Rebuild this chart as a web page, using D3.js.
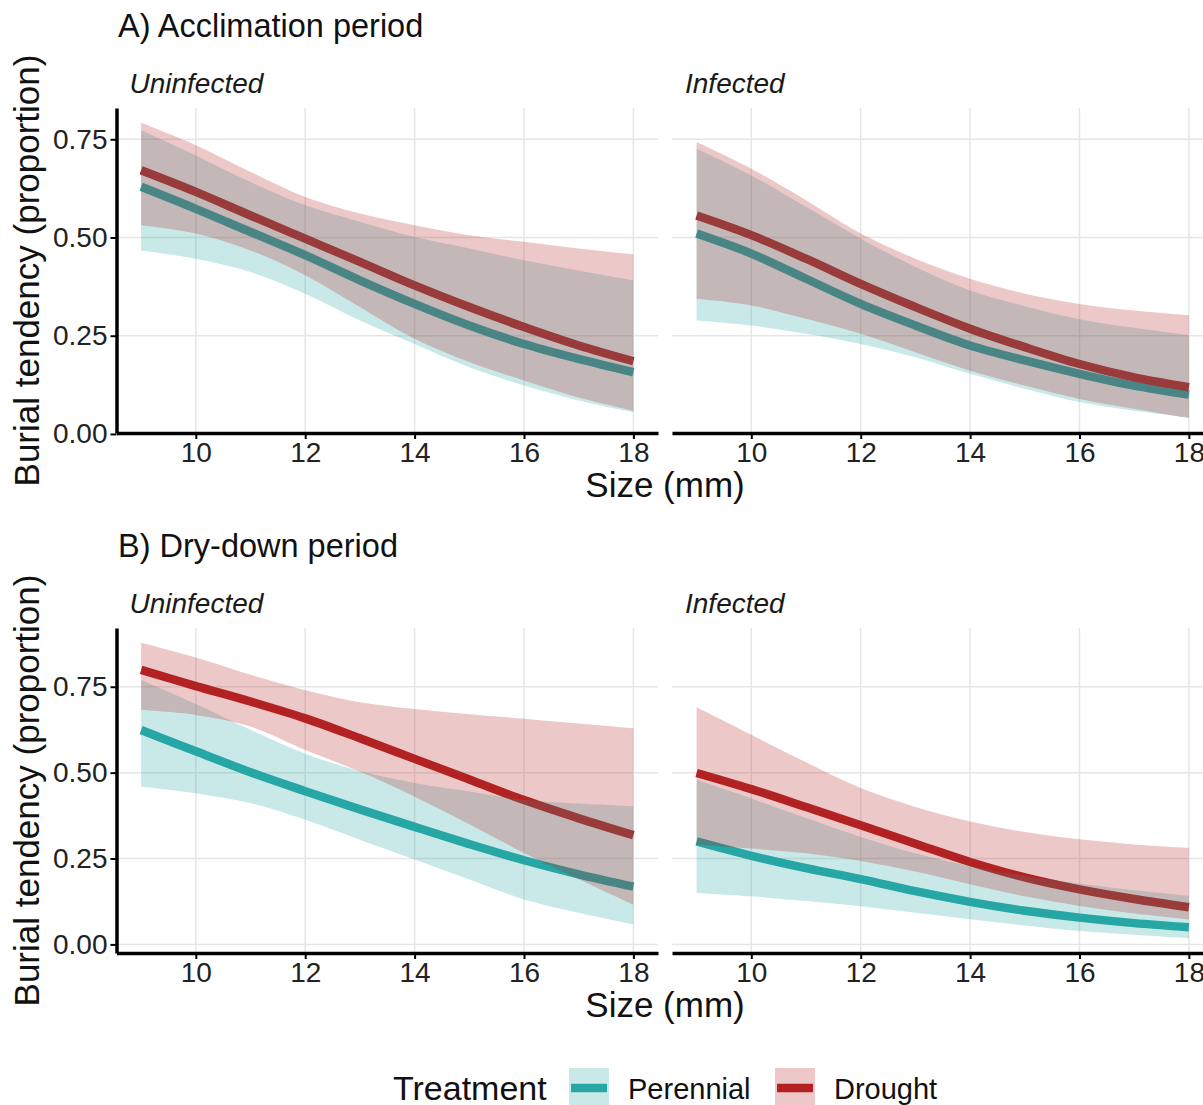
<!DOCTYPE html>
<html>
<head>
<meta charset="utf-8">
<script src="https://cdn.jsdelivr.net/npm/d3@7"></script>
<style>
  body { margin: 0; background: #fff; }
  svg { display: block; font-family: "Liberation Sans", Arial, sans-serif; }
</style>
</head>
<body>
<div id="chart"></div>
<script>
// Sizes (mm) where the fitted curves were read.
var sizes = [9, 10, 11, 12, 13, 14, 15, 16, 17, 18];
var xTicks = [10, 12, 14, 16, 18];
var yTicks = [0, 0.25, 0.5, 0.75];

var periods = ["A) Acclimation period", "B) Dry-down period"];
var infections = ["Uninfected", "Infected"];
var treatments = ["Perennial", "Drought"];

// A) Acclimation, uninfected.
var accUninfPerFit = [0.629, 0.573, 0.514, 0.455, 0.391, 0.331, 0.276, 0.229, 0.191, 0.157];
var accUninfPerLo  = [0.467, 0.446, 0.412, 0.357, 0.289, 0.229, 0.170, 0.123, 0.085, 0.055];
var accUninfPerHi  = [0.773, 0.709, 0.641, 0.582, 0.540, 0.501, 0.472, 0.442, 0.416, 0.391];
var accUninfDroFit = [0.671, 0.616, 0.556, 0.497, 0.438, 0.378, 0.323, 0.272, 0.225, 0.185];
var accUninfDroLo  = [0.531, 0.510, 0.467, 0.404, 0.323, 0.242, 0.183, 0.136, 0.093, 0.059];
var accUninfDroHi  = [0.792, 0.735, 0.667, 0.603, 0.561, 0.531, 0.506, 0.489, 0.472, 0.457];

// A) Acclimation, infected.
var accInfPerFit = [0.510, 0.459, 0.395, 0.331, 0.276, 0.225, 0.187, 0.153, 0.123, 0.100];
var accInfPerLo  = [0.289, 0.276, 0.255, 0.229, 0.195, 0.153, 0.115, 0.081, 0.059, 0.042];
var accInfPerHi  = [0.726, 0.658, 0.578, 0.497, 0.425, 0.365, 0.325, 0.292, 0.270, 0.251];
var accInfDroFit = [0.556, 0.506, 0.446, 0.382, 0.323, 0.268, 0.221, 0.178, 0.144, 0.119];
var accInfDroLo  = [0.344, 0.327, 0.293, 0.255, 0.208, 0.161, 0.123, 0.089, 0.064, 0.040];
var accInfDroHi  = [0.743, 0.675, 0.595, 0.510, 0.446, 0.395, 0.357, 0.331, 0.314, 0.302];

// B) Dry-down, uninfected.
var dryUninfPerFit = [0.624, 0.562, 0.501, 0.446, 0.393, 0.342, 0.292, 0.245, 0.204, 0.168];
var dryUninfPerLo  = [0.460, 0.440, 0.411, 0.363, 0.305, 0.247, 0.189, 0.131, 0.092, 0.058];
var dryUninfPerHi  = [0.770, 0.700, 0.625, 0.555, 0.505, 0.470, 0.445, 0.421, 0.410, 0.402];
var dryUninfDroFit = [0.799, 0.752, 0.707, 0.658, 0.600, 0.540, 0.480, 0.420, 0.367, 0.318];
var dryUninfDroLo  = [0.682, 0.668, 0.634, 0.566, 0.503, 0.430, 0.350, 0.266, 0.190, 0.116];
var dryUninfDroHi  = [0.878, 0.835, 0.785, 0.740, 0.705, 0.685, 0.670, 0.657, 0.643, 0.629];

// B) Dry-down, infected.
var dryInfPerFit = [0.300, 0.258, 0.222, 0.190, 0.155, 0.124, 0.098, 0.078, 0.062, 0.050];
var dryInfPerLo  = [0.150, 0.140, 0.126, 0.111, 0.092, 0.073, 0.055, 0.039, 0.028, 0.018];
var dryInfPerHi  = [0.479, 0.425, 0.368, 0.313, 0.265, 0.228, 0.199, 0.177, 0.158, 0.142];
var dryInfDroFit = [0.499, 0.452, 0.400, 0.347, 0.293, 0.240, 0.195, 0.160, 0.132, 0.108];
var dryInfDroLo  = [0.290, 0.279, 0.265, 0.243, 0.212, 0.175, 0.140, 0.112, 0.090, 0.073];
var dryInfDroHi  = [0.690, 0.610, 0.530, 0.455, 0.400, 0.358, 0.327, 0.306, 0.291, 0.281];

// Panel table built from the arrays above.
function series(name, fit, lo, hi) {
  return {
    treatment: name,
    values: sizes.map(function (s, i) {
      return {x: s, fit: fit[i], lo: lo[i], hi: hi[i]};
    }),
  };
}

var panels = [
  {row: 0, col: 0, series: [
    series("Perennial", accUninfPerFit, accUninfPerLo, accUninfPerHi),
    series("Drought", accUninfDroFit, accUninfDroLo, accUninfDroHi)]},
  {row: 0, col: 1, series: [
    series("Perennial", accInfPerFit, accInfPerLo, accInfPerHi),
    series("Drought", accInfDroFit, accInfDroLo, accInfDroHi)]},
  {row: 1, col: 0, series: [
    series("Perennial", dryUninfPerFit, dryUninfPerLo, dryUninfPerHi),
    series("Drought", dryUninfDroFit, dryUninfDroLo, dryUninfDroHi)]},
  {row: 1, col: 1, series: [
    series("Perennial", dryInfPerFit, dryInfPerLo, dryInfPerHi),
    series("Drought", dryInfDroFit, dryInfDroLo, dryInfDroHi)]},
];

var color = d3.scaleOrdinal().domain(treatments).range(["#26a6a4", "#b22222"]);
var fillAlpha = 0.25;
var lineWidth = 8.5;

var width = 1203;
var height = 1105;

// Panel boxes.
var rows = [
  {top: 108, bottom: 433, title: 37, strip: 93, xTitle: 497},
  {top: 628, bottom: 953, title: 557, strip: 613, xTitle: 1017},
];
var cols = [
  {left: 116.5, right: 658},
  {left: 672, right: 1213.5},
];

var svg = d3
  .select("#chart")
  .append("svg")
  .attr("width", width)
  .attr("height", height);

// Expanded domains (5% like ggplot).
function expand(ext) {
  var pad = (ext[1] - ext[0]) * 0.05;
  return [ext[0] - pad, ext[1] + pad];
}

var xDomain = expand(d3.extent(sizes));

var yDomains = rows.map(function (r, ri) {
  var lo = [], hi = [];
  panels.filter(function (p) { return p.row === ri; }).forEach(function (p) {
    p.series.forEach(function (s) {
      s.values.forEach(function (v) { lo.push(v.lo); hi.push(v.hi); });
    });
  });
  return expand([d3.min(lo), d3.max(hi)]);
});

panels.forEach(function (p) {
  var r = rows[p.row];
  var c = cols[p.col];
  var x = d3.scaleLinear().domain(xDomain).range([c.left, c.right]);
  var y = d3.scaleLinear().domain(yDomains[p.row]).range([r.bottom, r.top]);

  var g = svg.append("g");

  // Grid lines.
  g.selectAll(".vgrid")
    .data(xTicks)
    .enter()
    .append("line")
    .attr("x1", function (d) { return x(d); })
    .attr("x2", function (d) { return x(d); })
    .attr("y1", r.top)
    .attr("y2", r.bottom)
    .attr("stroke", "#e6e6e6")
    .attr("stroke-width", 1.5);

  g.selectAll(".hgrid")
    .data(yTicks)
    .enter()
    .append("line")
    .attr("x1", c.left)
    .attr("x2", c.right)
    .attr("y1", function (d) { return y(d); })
    .attr("y2", function (d) { return y(d); })
    .attr("stroke", "#e6e6e6")
    .attr("stroke-width", 1.5);

  var line = d3
    .line()
    .curve(d3.curveCatmullRom.alpha(0.5))
    .x(function (d) { return x(d.x); })
    .y(function (d) { return y(d.fit); });

  var area = d3
    .area()
    .curve(d3.curveCatmullRom.alpha(0.5))
    .x(function (d) { return x(d.x); })
    .y0(function (d) { return y(d.lo); })
    .y1(function (d) { return y(d.hi); });

  // Lines first, ribbons drawn on top of them.
  g.selectAll(".fit")
    .data(p.series)
    .enter()
    .append("path")
    .attr("d", function (s) { return line(s.values); })
    .attr("fill", "none")
    .attr("stroke", function (s) { return color(s.treatment); })
    .attr("stroke-width", lineWidth);

  g.selectAll(".ribbon")
    .data(p.series)
    .enter()
    .append("path")
    .attr("d", function (s) { return area(s.values); })
    .attr("fill", function (s) { return color(s.treatment); })
    .attr("fill-opacity", fillAlpha)
    .attr("stroke", "none");

  // Axes.
  var xAxis = g
    .append("g")
    .attr("transform", "translate(0," + r.bottom + ")")
    .call(d3.axisBottom(x).tickValues(xTicks).tickSize(6).tickSizeOuter(0).tickPadding(3));
  xAxis.select(".domain").attr("stroke", "#000").attr("stroke-width", 3.5);
  xAxis.selectAll(".tick line").attr("stroke", "#000").attr("stroke-width", 2);
  xAxis.selectAll(".tick text")
    .attr("font-size", 28)
    .attr("font-family", "Liberation Sans, Arial, sans-serif")
    .attr("fill", "#222");

  if (p.col === 0) {
    var yAxis = g
      .append("g")
      .attr("transform", "translate(" + c.left + ",0)")
      .call(
        d3.axisLeft(y).tickValues(yTicks).tickSize(6).tickSizeOuter(0).tickPadding(3)
          .tickFormat(d3.format(".2f"))
      );
    yAxis.select(".domain").attr("stroke", "#000").attr("stroke-width", 3.5);
    yAxis.selectAll(".tick line").attr("stroke", "#000").attr("stroke-width", 2);
    yAxis.selectAll(".tick text")
      .attr("font-size", 28)
      .attr("font-family", "Liberation Sans, Arial, sans-serif")
      .attr("fill", "#222");
  }

  // Strip label.
  g.append("text")
    .attr("x", c.left + 13)
    .attr("y", r.strip)
    .attr("font-size", 28)
    .attr("font-style", "italic")
    .attr("fill", "#1a1a1a")
    .text(infections[p.col]);
});

// Row titles, axis titles.
rows.forEach(function (r, ri) {
  svg.append("text")
    .attr("x", 118)
    .attr("y", r.title)
    .attr("font-size", 32.5)
    .attr("fill", "#111")
    .text(periods[ri]);

  svg.append("text")
    .attr("x", (cols[0].left + cols[1].right) / 2)
    .attr("y", r.xTitle)
    .attr("text-anchor", "middle")
    .attr("font-size", 35)
    .attr("fill", "#111")
    .text("Size (mm)");

  svg.append("text")
    .attr("transform", "translate(39," + (r.top + r.bottom) / 2 + ") rotate(-90)")
    .attr("text-anchor", "middle")
    .attr("font-size", 35)
    .attr("fill", "#111")
    .text("Burial tendency (proportion)");
});

// Legend.
var legend = svg.append("g");
legend.append("text")
  .attr("x", 393)
  .attr("y", 1100)
  .attr("font-size", 34)
  .attr("fill", "#111")
  .text("Treatment");

var keyX = d3.scaleOrdinal().domain(treatments).range([569, 775]);

var keys = legend
  .selectAll(".key")
  .data(treatments)
  .enter()
  .append("g")
  .attr("transform", function (d) { return "translate(" + keyX(d) + ",1068)"; });

keys.append("rect")
  .attr("width", 40)
  .attr("height", 40)
  .attr("fill", function (d) { return color(d); })
  .attr("fill-opacity", fillAlpha);

keys.append("line")
  .attr("x1", 2)
  .attr("x2", 38)
  .attr("y1", 20)
  .attr("y2", 20)
  .attr("stroke", function (d) { return color(d); })
  .attr("stroke-width", lineWidth);

keys.append("text")
  .attr("x", 59)
  .attr("y", 31)
  .attr("font-size", 29)
  .attr("fill", "#111")
  .text(function (d) { return d; });
</script>
</body>
</html>
